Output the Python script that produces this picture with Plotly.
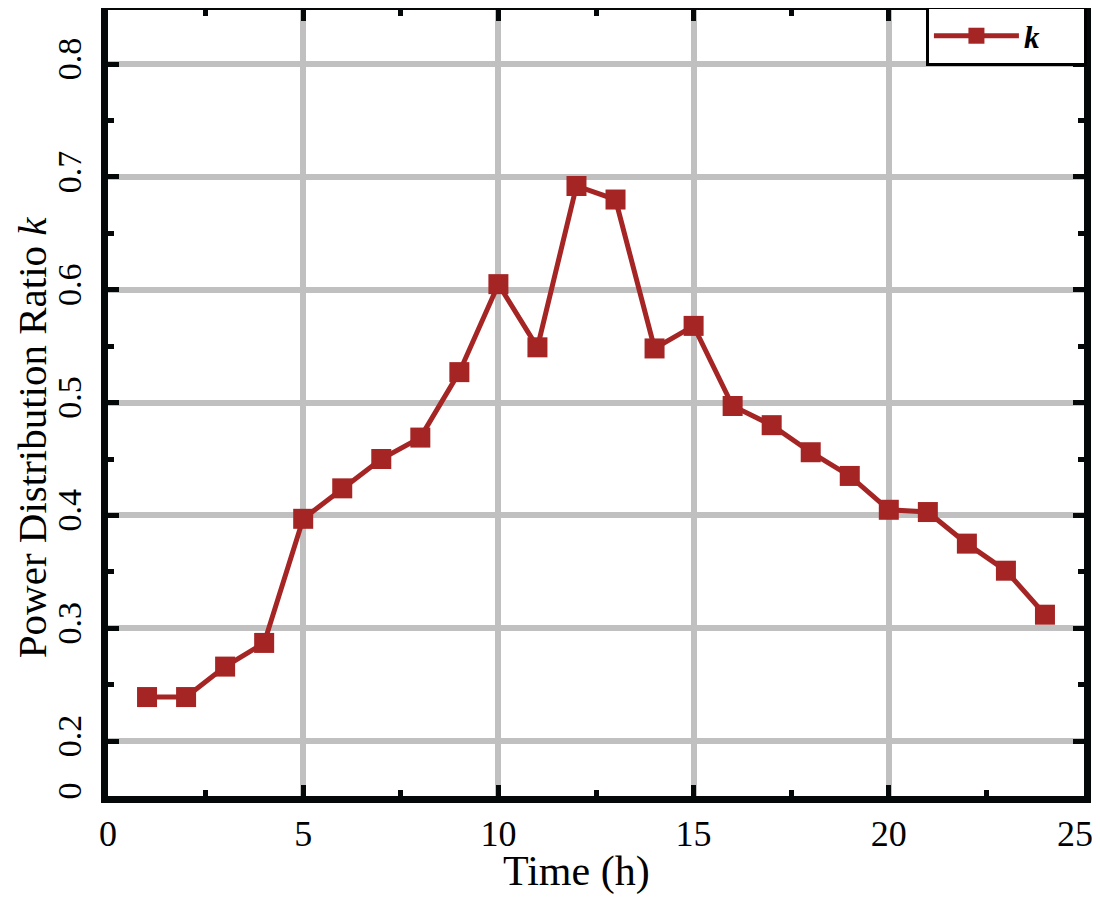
import plotly.graph_objects as go

hours = list(range(1, 25))
ratio_k = [0.239, 0.239, 0.266, 0.287, 0.397, 0.424, 0.450, 0.469, 0.527, 0.605,
           0.549, 0.692, 0.680, 0.548, 0.568, 0.497, 0.480, 0.456, 0.435, 0.405,
           0.403, 0.375, 0.351, 0.312]

x_ticks = [0, 5, 10, 15, 20, 25]
x_labels = ["0", "5", "10", "15", "20", "25\u00a0\u00a0"]
y_bottom = 0.1513
y_top = 0.848
y_ticks = [y_bottom, 0.2, 0.3, 0.4, 0.5, 0.6, 0.7, 0.8]
y_labels = ["0", "0.2", "0.3", "0.4", "0.5", "0.6", "0.7", "0.8"]

red = "#a52424"
ink = "#050808"
serif = "Liberation Serif, Times New Roman, serif"

fig = go.Figure()
fig.add_trace(go.Scatter(
    x=hours, y=ratio_k, name="<b><i>k</i></b>" + "\u00a0" * 5,
    mode="lines+markers",
    line=dict(color=red, width=5),
    marker=dict(symbol="square", size=20, color=red),
))

axis_common = dict(
    showline=True, linecolor=ink, linewidth=7, mirror="ticks",
    ticks="inside", ticklen=11, tickwidth=5, tickcolor=ink,
    showgrid=True, gridcolor="#c0c0c0", gridwidth=6,
    zeroline=False, ticklabeloverflow="allow",
)

fig.update_xaxes(
    range=[0, 25], tickvals=x_ticks, ticktext=x_labels,
    tickfont=dict(family=serif, size=36, color="black"),
    minor=dict(ticks="inside", ticklen=6, tickwidth=5, tickcolor=ink,
               tick0=2.5, dtick=5, showgrid=False),
    **axis_common,
)
fig.update_yaxes(
    range=[y_bottom, y_top], tickvals=y_ticks, ticktext=y_labels, tickangle=-90,
    tickfont=dict(family=serif, size=34, color="black"),
    ticklabelstandoff=6,
    minor=dict(ticks="inside", ticklen=6, tickwidth=5, tickcolor=ink,
               tick0=0.05, dtick=0.1, showgrid=False),
    **axis_common,
)

# axis titles as annotations so they can sit off-centre like the original
fig.add_annotation(
    text="Time (h)", xref="paper", yref="paper", x=0.4805, y=0,
    xanchor="center", yanchor="top", yshift=-50, showarrow=False,
    font=dict(family=serif, size=42, color="black"),
)
fig.add_annotation(
    text="Power Distribution Ratio <i>k</i>", xref="paper", yref="paper",
    x=0, y=0.4565, xanchor="center", yanchor="middle", xshift=-76,
    textangle=-90, showarrow=False,
    font=dict(family=serif, size=41, color="black"),
)

fig.update_layout(
    width=1092, height=887,
    margin=dict(l=100, r=16, t=2, b=99, autoexpand=False),
    plot_bgcolor="white", paper_bgcolor="white",
    showlegend=True,
    legend=dict(
        x=1.003, y=1.005, xanchor="right", yanchor="top",
        bgcolor="white", bordercolor="black", borderwidth=3,
        font=dict(family=serif, size=31, color="black"),
        itemwidth=85,
    ),
)

fig.write_html("out.html")
